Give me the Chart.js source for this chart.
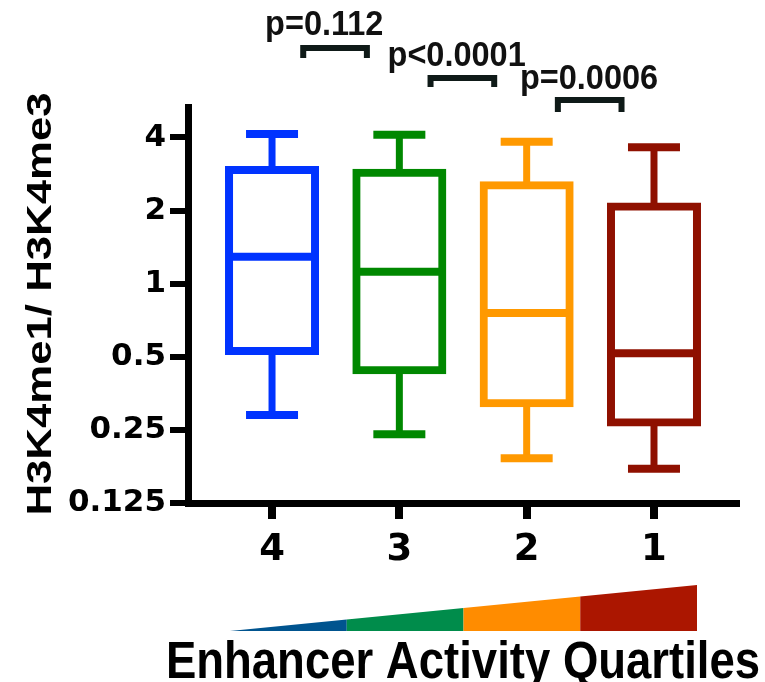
<!DOCTYPE html>
<html><head><meta charset="utf-8">
<script src="https://cdn.jsdelivr.net/npm/chart.js@4.4.1/dist/chart.umd.min.js"></script>
<style>html,body{margin:0;padding:0;background:#fff;}canvas{display:block;}</style>
</head><body>
<canvas id="c" width="765" height="682"></canvas>
<script>
// ---- data ----
const categories = ['4', '3', '2', '1'];
const whiskerHigh = [4.13, 4.10, 3.84, 3.65];
const q3 = [2.94, 2.86, 2.54, 2.08];
const median = [1.29, 1.12, 0.757, 0.517];
const q1 = [0.528, 0.44, 0.322, 0.268];
const whiskerLow = [0.288, 0.24, 0.191, 0.173];
const yTickValues = [0.125, 0.25, 0.5, 1, 2, 4];
const yTickLabels = ['0.125', '0.25', '0.5', '1', '2', '4'];
const pValues = ['p=0.112', 'p<0.0001', 'p=0.0006'];
const yTitle = 'H3K4me1/ H3K4me3';
const xTitle = 'Enhancer Activity Quartiles';

// ---- styles ----
const boxColors = ['#0033ff', '#008800', '#ff9900', '#8f1000'];
const rampColors = ['#00548f', '#008c4b', '#ff8c00', '#ab1600'];
const idx = categories.map((_, i) => i);

const annotations = {
  id: 'annotations',
  afterDraw(chart) {
    const ctx = chart.ctx;
    const xs = chart.scales.x;
    const fontFam = '"Liberation Sans", Arial, sans-serif';
    // y title
    ctx.save();
    ctx.fillStyle = '#000';
    ctx.font = 'bold 35px ' + fontFam;
    ctx.textAlign = 'center';
    ctx.textBaseline = 'alphabetic';
    ctx.translate(51, 304);
    ctx.rotate(-Math.PI / 2);
    ctx.scale(1.25, 1);
    ctx.fillText(yTitle, 0, 0);
    ctx.restore();
    // x title
    ctx.save();
    ctx.fillStyle = '#000';
    ctx.font = 'bold 45.5px ' + fontFam;
    ctx.textAlign = 'center';
    ctx.textBaseline = 'alphabetic';
    ctx.translate(463, 678);
    ctx.scale(1, 1.15);
    ctx.fillText(xTitle, 0, 0);
    ctx.restore();
    // ramp
    const rx0 = 230, rx1 = 697, rb = 631, rt = 585;
    const yAt = x => rb - (x - rx0) * (rb - rt) / (rx1 - rx0);
    const segW = (rx1 - rx0) / rampColors.length;
    rampColors.forEach((c, i) => {
      const a = rx0 + i * segW, b = a + segW;
      ctx.beginPath();
      ctx.moveTo(a, rb); ctx.lineTo(b, rb); ctx.lineTo(b, yAt(b)); ctx.lineTo(a, yAt(a));
      ctx.closePath();
      ctx.fillStyle = c;
      ctx.fill();
    });
    // significance brackets
    const barY = [48, 78, 100];
    const legY = [58, 87, 112];
    const textX = [0.41, 1.45, 2.49];
    const textY = [35, 66, 89];
    pValues.forEach((t, i) => {
      const x1 = xs.getPixelForValue(i + 0.245);
      const x2 = xs.getPixelForValue(i + 1 - 0.255);
      ctx.save();
      ctx.strokeStyle = '#0f1a18';
      ctx.lineWidth = 6;
      ctx.lineJoin = 'miter';
      ctx.beginPath();
      ctx.moveTo(x1, legY[i]); ctx.lineTo(x1, barY[i]); ctx.lineTo(x2, barY[i]); ctx.lineTo(x2, legY[i]);
      ctx.stroke();
      ctx.fillStyle = '#111';
      ctx.font = 'bold 32.5px ' + fontFam;
      ctx.textAlign = 'center';
      ctx.textBaseline = 'alphabetic';
      ctx.translate(xs.getPixelForValue(textX[i]), textY[i]);
      ctx.scale(1, 1.1);
      ctx.fillText(t, 0, 0);
      ctx.restore();
    });
  }
};

const pt = (arr) => idx.map(i => ({x: i, y: arr[i]}));
const rng = (a, b) => idx.map(i => ({x: i, y: [a[i], b[i]]}));

new Chart(document.getElementById('c'), {
  type: 'bar',
  data: {
    datasets: [
      { type: 'bar', data: rng(q1, q3), backgroundColor: '#ffffff', borderColor: boxColors,
        borderWidth: 8, borderSkipped: false, inflateAmount: 4, grouped: false,
        barPercentage: 1, categoryPercentage: 1, maxBarThickness: 86, order: 3 },
      { type: 'bar', data: rng(q3, whiskerHigh), backgroundColor: boxColors, borderWidth: 0,
        inflateAmount: 0, grouped: false, barPercentage: 1, categoryPercentage: 1, maxBarThickness: 7, order: 2 },
      { type: 'bar', data: rng(whiskerLow, q1), backgroundColor: boxColors, borderWidth: 0,
        inflateAmount: 0, grouped: false, barPercentage: 1, categoryPercentage: 1, maxBarThickness: 7, order: 2 },
      { type: 'line', data: pt(whiskerHigh), showLine: false, pointStyle: 'line', pointRadius: 26,
        pointBorderWidth: 8, pointBorderColor: boxColors, order: 1 },
      { type: 'line', data: pt(whiskerLow), showLine: false, pointStyle: 'line', pointRadius: 26,
        pointBorderWidth: 8, pointBorderColor: boxColors, order: 1 },
      { type: 'line', data: pt(median), showLine: false, pointStyle: 'line', pointRadius: 43,
        pointBorderWidth: 8, pointBorderColor: boxColors, order: 1 }
    ]
  },
  options: {
    responsive: false,
    animation: false,
    devicePixelRatio: 1,
    layout: { autoPadding: false, padding: { left: 0, right: 28, top: 107, bottom: 0 } },
    plugins: { legend: { display: false }, tooltip: { enabled: false } },
    scales: {
      x: {
        type: 'linear', min: -0.66, max: 3.652, offset: false, bounds: 'data',
        afterFit: s => { s.height = 179; s.paddingLeft = 0; s.paddingRight = 0; },
        afterBuildTicks: s => { s.ticks = idx.map(i => ({value: i})); },
        grid: { display: true, offset: false, drawOnChartArea: false, drawTicks: true, tickLength: 16,
                lineWidth: 6, tickWidth: 8, color: '#000', tickColor: '#000' },
        border: { display: true, width: 7, color: '#000' },
        ticks: { autoSkip: false, maxRotation: 0, padding: 9, color: '#000',
                 font: { family: '"DejaVu Sans"', weight: 'bold', size: 37 },
                 callback: (v, i) => categories[i] }
      },
      y: {
        type: 'logarithmic', min: 0.125, max: 5.34, bounds: 'data',
        afterFit: s => { s.width = 188; s.paddingTop = 0; s.paddingBottom = 0; },
        afterBuildTicks: s => { s.ticks = yTickValues.map(v => ({value: v})); },
        grid: { display: true, drawOnChartArea: false, drawTicks: true, tickLength: 18,
                lineWidth: 6, tickWidth: 6, color: '#000', tickColor: '#000' },
        border: { display: true, width: 7, color: '#000' },
        ticks: { autoSkip: false, padding: 4, color: '#000',
                 font: { family: '"DejaVu Sans"', weight: 'bold', size: 31 },
                 callback: (v, i) => yTickLabels[i] }
      }
    }
  },
  plugins: [annotations]
});
</script>
</body></html>
